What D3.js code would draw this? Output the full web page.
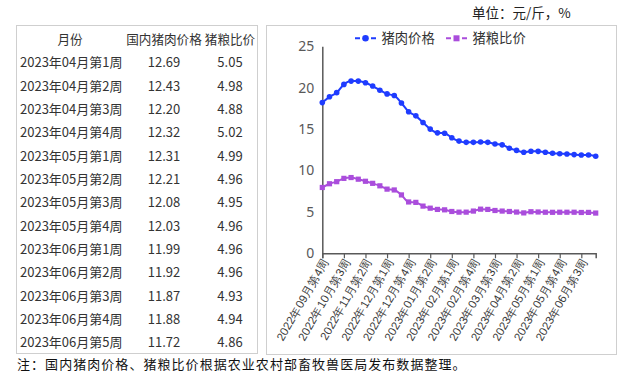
<!DOCTYPE html>
<html>
<head>
<meta charset="utf-8">
<script src="https://cdn.jsdelivr.net/npm/d3@7"></script>
<style>
  body { margin: 0; background: #fff; }
  svg { display: block; font-family: "Noto Sans CJK SC", "Noto Sans", sans-serif; }
</style>
</head>
<body>
<div id="chart"></div>
<script>
// weekly categories, 2022-09 week 4 .. 2023-06 week 5
const weeks = [
  "2022年09月第4周", "2022年10月第1周", "2022年10月第2周", "2022年10月第3周",
  "2022年10月第4周", "2022年11月第1周", "2022年11月第2周", "2022年11月第3周",
  "2022年11月第4周", "2022年12月第1周", "2022年12月第2周", "2022年12月第3周",
  "2022年12月第4周", "2022年12月第5周", "2023年01月第1周", "2023年01月第2周",
  "2023年01月第3周", "2023年01月第4周", "2023年02月第1周", "2023年02月第2周",
  "2023年02月第3周", "2023年02月第4周", "2023年03月第1周", "2023年03月第2周",
  "2023年03月第3周", "2023年03月第4周", "2023年04月第1周", "2023年04月第2周",
  "2023年04月第3周", "2023年04月第4周", "2023年05月第1周", "2023年05月第2周",
  "2023年05月第3周", "2023年05月第4周", "2023年06月第1周", "2023年06月第2周",
  "2023年06月第3周", "2023年06月第4周", "2023年06月第5周"
];
const porkPrice = [
  18.2, 18.9, 19.4, 20.4, 20.8, 20.8, 20.6, 20.2, 19.7, 19.25,
  19.05, 18.15, 17.1, 16.6, 15.8, 15.0, 14.55, 14.5, 13.95, 13.55,
  13.4, 13.4, 13.45, 13.4, 13.2, 13.1,
  12.69, 12.43, 12.20, 12.32, 12.31, 12.21, 12.08, 12.03, 11.99, 11.92, 11.87, 11.88, 11.72
];
const grainRatio = [
  7.95, 8.4, 8.65, 9.05, 9.15, 8.95, 8.7, 8.45, 8.15, 7.75,
  7.65, 7.05, 6.2, 6.15, 5.7, 5.45, 5.3, 5.25, 5.05, 4.97,
  4.97, 5.1, 5.33, 5.3, 5.17, 5.1,
  5.05, 4.98, 4.88, 5.02, 4.99, 4.96, 4.95, 4.96, 4.96, 4.96, 4.93, 4.94, 4.86
];
const tableHeader = ["月份", "国内猪肉价格", "猪粮比价"];
const seriesNames = ["猪肉价格", "猪粮比价"];
const yTicks = [0, 5, 10, 15, 20, 25];
const tableStart = 26;

const width = 632, height = 376;
const blue = "#1f3cff", purple = "#aa4ddc", axisColor = "#595959";

const svg = d3.select("#chart").append("svg")
  .attr("width", width)
  .attr("height", height);

svg.append("rect").attr("width", width).attr("height", height).attr("fill", "#fff");

// ---- table on the left
svg.append("rect")
  .attr("x", 16.5).attr("y", 25.5)
  .attr("width", 241).attr("height", 328)
  .attr("fill", "none").attr("stroke", "#cfcfcf");

const rowY = i => 39.3 + i * 23.35;
const colX = [70, 164, 230];

svg.append("g").selectAll("text")
  .data(tableHeader)
  .enter().append("text")
  .attr("x", (d, i) => colX[i])
  .attr("y", rowY(0))
  .attr("dy", "0.35em")
  .attr("text-anchor", "middle")
  .attr("font-size", 12.6)
  .attr("fill", "#333")
  .text(d => d);

const rows = weeks.slice(tableStart).map((w, i) => ({
  week: w, pork: porkPrice[tableStart + i], ratio: grainRatio[tableStart + i]
}));

const rowG = svg.append("g").selectAll("g")
  .data(rows)
  .enter().append("g")
  .attr("transform", (d, i) => `translate(0,${rowY(i + 1)})`)
  .attr("font-size", 13)
  .attr("fill", "#333");

rowG.append("text").attr("x", 20).attr("dy", "0.35em").text(d => d.week);
rowG.append("text").attr("x", colX[1]).attr("dy", "0.35em").attr("text-anchor", "middle")
  .text(d => d.pork.toFixed(2));
rowG.append("text").attr("x", colX[2]).attr("dy", "0.35em").attr("text-anchor", "middle")
  .text(d => d.ratio.toFixed(2));

// ---- chart on the right
svg.append("rect")
  .attr("x", 266.5).attr("y", 25.5)
  .attr("width", 350).attr("height", 329)
  .attr("fill", "none").attr("stroke", "#cfcfcf");

svg.append("text")
  .attr("x", 472).attr("y", 13.5)
  .attr("dy", "0.35em")
  .attr("font-size", 13.5)
  .attr("fill", "#222")
  .text("单位：元/斤，%");

const x = d3.scalePoint()
  .domain(weeks)
  .range([322.3, 595.7]);

const y = d3.scaleLinear()
  .domain([0, 25])
  .range([253.3, 46.3]);

// y axis
const yAxis = svg.append("g")
  .attr("transform", "translate(322.3,0)")
  .call(d3.axisLeft(y).tickValues(yTicks).tickSize(0).tickPadding(8));
yAxis.select(".domain").attr("stroke", axisColor).attr("stroke-width", 1.5);
yAxis.selectAll("text").attr("font-size", 14).attr("fill", axisColor)
  .attr("font-family", "'Noto Sans', sans-serif");

// x axis
const xAxis = svg.append("g")
  .attr("transform", "translate(0,253.3)")
  .call(d3.axisBottom(x)
    .tickValues(weeks.filter((d, i) => i % 3 === 0))
    .tickSizeOuter(0)
    .tickSize(5));
xAxis.select(".domain").attr("stroke", axisColor).attr("stroke-width", 1.5);
xAxis.selectAll("line").attr("stroke", axisColor).attr("stroke-width", 1.2);
xAxis.selectAll("text")
  .attr("font-size", 11.5)
  .attr("fill", "#3a3a3a")
  .attr("text-anchor", "end")
  .attr("transform", "translate(3,6) rotate(-60)")
  .attr("x", 0).attr("y", 0)
  .attr("dy", "0.35em");

// lines
const line = d3.line()
  .x((d, i) => x(weeks[i]))
  .y(d => y(d))
  .curve(d3.curveMonotoneX);

svg.append("path")
  .datum(porkPrice)
  .attr("d", line)
  .attr("fill", "none")
  .attr("stroke", blue)
  .attr("stroke-width", 2);

svg.append("g").selectAll("circle")
  .data(porkPrice)
  .enter().append("circle")
  .attr("cx", (d, i) => x(weeks[i]))
  .attr("cy", d => y(d))
  .attr("r", 2.8)
  .attr("fill", blue);

svg.append("path")
  .datum(grainRatio)
  .attr("d", line)
  .attr("fill", "none")
  .attr("stroke", purple)
  .attr("stroke-width", 2);

svg.append("g").selectAll("rect")
  .data(grainRatio)
  .enter().append("rect")
  .attr("x", (d, i) => x(weeks[i]) - 2.6)
  .attr("y", d => y(d) - 2.6)
  .attr("width", 5.2)
  .attr("height", 5.2)
  .attr("fill", purple);

// legend
const legendX = [355, 446];
const legend = svg.selectAll(".legend")
  .data(seriesNames)
  .enter().append("g")
  .attr("class", "legend")
  .attr("transform", (d, i) => `translate(${legendX[i]},38.3)`);

legend.append("line")
  .attr("x1", 0).attr("x2", 21)
  .attr("stroke", (d, i) => i === 0 ? blue : purple)
  .attr("stroke-width", 2)
  .attr("stroke-dasharray", "5,11");

legend.filter((d, i) => i === 0).append("circle")
  .attr("cx", 10.5).attr("r", 3.3).attr("fill", blue);
legend.filter((d, i) => i === 1).append("rect")
  .attr("x", 7.5).attr("y", -3).attr("width", 6).attr("height", 6).attr("fill", purple);

legend.append("text")
  .attr("x", 26.5)
  .attr("dy", "0.35em")
  .attr("font-size", 13.3)
  .attr("fill", "#333")
  .text(d => d);

// note
svg.append("text")
  .attr("x", 17).attr("y", 364)
  .attr("dy", "0.35em")
  .attr("font-size", 13)
  .attr("letter-spacing", 1.05)
  .attr("fill", "#111")
  .text("注：国内猪肉价格、猪粮比价根据农业农村部畜牧兽医局发布数据整理。");
</script>
</body>
</html>
